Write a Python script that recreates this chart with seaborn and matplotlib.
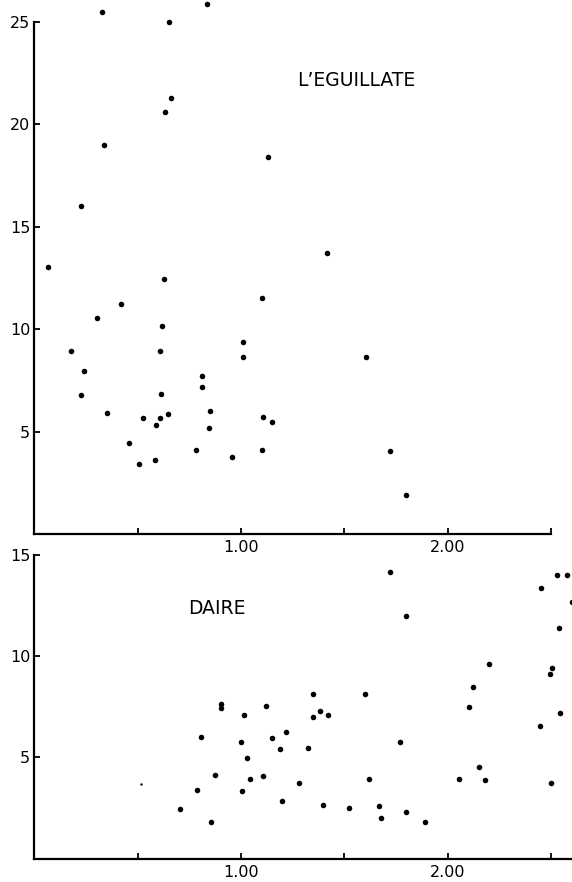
import numpy as np
import pandas as pd
import seaborn as sns
import matplotlib.pyplot as plt

# --- data ---
eguil_x = [0.327, 0.835, 0.653, 0.660, 0.631, 0.337, 1.132, 0.224, 1.418,
           0.067, 0.627, 0.419, 1.100, 0.301, 0.616, 1.010, 0.177, 0.609,
           1.011, 0.240, 0.811, 0.811, 0.226, 0.611, 0.353, 0.648, 0.851,
           0.524, 0.608, 1.106, 1.149, 0.587, 0.845, 0.459, 0.784, 1.103,
           0.958, 0.585, 0.508, 1.607, 1.721, 1.800]
eguil_y = [25.47, 25.88, 25.01, 21.28, 20.60, 19.00, 18.41, 16.02, 13.72,
           13.03, 12.45, 11.24, 11.52, 10.58, 10.19, 9.41, 8.94, 8.97,
           8.64, 7.99, 7.73, 7.20, 6.82, 6.84, 5.94, 5.89, 6.02,
           5.68, 5.67, 5.72, 5.47, 5.33, 5.18, 4.48, 4.14, 4.14,
           3.77, 3.65, 3.46, 8.66, 4.06, 1.91]

daire_x = [0.706, 0.786, 0.805, 0.856, 0.874, 0.905, 0.905, 1.016, 1.000,
           1.027, 1.003, 1.042, 1.105, 1.123, 1.152, 1.190, 1.216, 1.200,
           1.281, 1.324, 1.350, 1.347, 1.382, 1.421, 1.398, 1.523, 1.599,
           1.621, 1.670, 1.678, 1.720, 1.770, 1.800, 1.799, 1.891, 2.055,
           2.104, 2.121, 2.152, 2.183, 2.199, 2.452, 2.449, 2.497, 2.505,
           2.502, 2.531, 2.577, 2.539, 2.544, 2.602]
daire_y = [2.45, 3.40, 5.99, 1.81, 4.14, 7.64, 7.42, 7.08, 5.78,
           4.99, 3.37, 3.94, 4.07, 7.54, 5.95, 5.44, 6.27, 2.87,
           3.74, 5.46, 8.14, 7.01, 7.27, 7.09, 2.66, 2.53, 8.11,
           3.94, 2.59, 2.00, 14.15, 5.75, 11.95, 2.32, 1.81, 3.92,
           7.47, 8.49, 4.53, 3.89, 9.59, 13.35, 6.55, 9.13, 9.42,
           3.74, 14.01, 14.01, 11.38, 7.19, 12.68]

# one very faint dot in the lower panel
daire_faint_x = [0.516]
daire_faint_y = [3.68]

x_ticks = [0.5, 1.0, 1.5, 2.0, 2.5]
x_tick_labels = ["", "1.00", "", "2.00", ""]
eguil_yticks = [5, 10, 15, 20, 25]
daire_yticks = [5, 10, 15]

sns.set_style("ticks")
plt.rcParams['font.family'] = ['DejaVu Sans']
plt.rcParams['text.color'] = 'black'

fig = plt.figure(figsize=(5.72, 8.82), dpi=100)
ax1 = fig.add_axes([0.0601, 0.394, 0.9399, 0.6043])
ax2 = fig.add_axes([0.0601, 0.0261, 0.9399, 0.3498])

df1 = pd.DataFrame({"x": eguil_x, "y": eguil_y})
df2 = pd.DataFrame({"x": daire_x, "y": daire_y})
df3 = pd.DataFrame({"x": daire_faint_x, "y": daire_faint_y})

sns.scatterplot(data=df1, x="x", y="y", ax=ax1, color="black", s=16,
                linewidth=0, clip_on=False)
sns.scatterplot(data=df2, x="x", y="y", ax=ax2, color="black", s=16,
                linewidth=0)
sns.scatterplot(data=df3, x="x", y="y", ax=ax2, color="black", s=3,
                linewidth=0)

for ax in (ax1, ax2):
    ax.set_xlim(0, 2.602)
    ax.set_xticks(x_ticks)
    ax.set_xticklabels(x_tick_labels)
    ax.set_xlabel("")
    ax.set_ylabel("")
    for side in ("top", "right"):
        ax.spines[side].set_visible(False)
    for side in ("left", "bottom"):
        ax.spines[side].set_linewidth(1.6)
        ax.spines[side].set_color("black")
    ax.tick_params(axis="both", direction="in", length=4, width=1.3,
                   colors="black", labelcolor="black", labelsize=11.5)
    ax.tick_params(axis="x", pad=4)
    ax.tick_params(axis="y", pad=3)
    ax.patch.set_alpha(0)

ax1.set_ylim(0, 26)
ax1.set_yticks(eguil_yticks)
ax1.spines["left"].set_bounds(0, 25)
ax1.spines["bottom"].set_bounds(0, 2.5)

ax2.set_ylim(0, 15.2)
ax2.set_yticks(daire_yticks)
ax2.spines["left"].set_bounds(0, 15)

ax1.text(1.557, 22.17, "L\u2019EGUILLATE", fontsize=13.5, color="black",
         ha="center", va="center")
ax2.text(0.885, 12.36, "DAIRE", fontsize=13.5, color="black",
         ha="center", va="center")

fig.savefig("out.png", dpi=100, facecolor="white")
